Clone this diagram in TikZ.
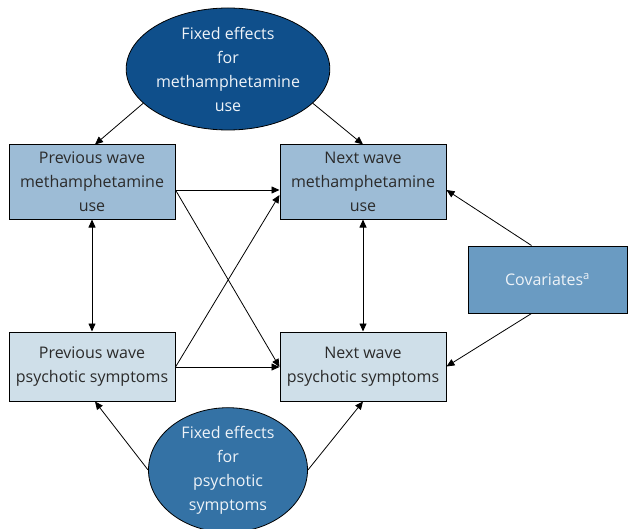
\documentclass[tikz,border=0pt]{standalone}
\usepackage{fontspec}
\setmainfont{Open Sans}
\usetikzlibrary{shapes.geometric,arrows.meta,calc}
\definecolor{ellTop}{HTML}{0F4F8B}
\definecolor{ellBot}{HTML}{3472A5}
\definecolor{methFill}{HTML}{9DBCD6}
\definecolor{psyFill}{HTML}{CFDFE9}
\definecolor{covFill}{HTML}{6A9BC2}
\definecolor{txtDark}{HTML}{2B2B2B}
\definecolor{txtLight}{HTML}{EEF3F8}
\begin{document}
\begin{tikzpicture}[x=1pt,y=-1pt,
  every node/.style={font=\fontsize{16}{24}\selectfont, align=center, inner sep=0pt},
  fx/.style={ellipse, draw=black, line width=0.8pt, minimum width=159, minimum height=122, text=txtLight},
  wavebox/.style={rectangle, draw=black, line width=1pt, minimum width=166, minimum height=74, text=txtDark},
  arr/.style={-{Triangle[length=8pt,width=7pt]}, line width=0.8pt, black},
  darr/.style={{Triangle[length=8pt,width=7pt]}-{Triangle[length=8pt,width=7pt]}, line width=0.8pt, black}
]
\useasboundingbox (0,0) rectangle (628,529);

\node[fx, fill=ellTop] (fetop) at (228,69) {Fixed effects\\for\\methamphetamine\\use};
\node[fx, fill=ellBot] (febot) at (228,470) {Fixed effects\\for\\psychotic\\symptoms};

\node[wavebox, fill=methFill] (pm) at (92,182) {Previous wave\\methamphetamine\\use};
\node[wavebox, fill=methFill] (nm) at (363,182) {Next wave\\methamphetamine\\use};
\node[wavebox, fill=psyFill, minimum height=69] (pp) at (92,366.5) {Previous wave\\psychotic symptoms};
\node[wavebox, fill=psyFill, minimum height=69] (np) at (363,366.5) {Next wave\\psychotic symptoms};
\node[rectangle, draw=black, line width=1pt, fill=covFill, text=txtLight, minimum width=159, minimum height=67] (cov) at (547.5,279.5) {Covariates\textsuperscript{a}};

% fixed effects arrows
\draw[arr] (fetop.202) -- ($(pm.north)+(3,0)$);
\draw[arr] (fetop.338) -- (nm.north);
\draw[arr] (febot.west) -- ($(pp.south)+(3,0)$);
\draw[arr] (febot.east) -- (np.south);

% cross-lagged arrows
\draw[arr] ($(pm.east)+(0,8)$) -- ($(nm.west)+(0,8)$);
\draw[arr] ($(pm.east)+(0,8)$) -- ($(np.west)+(0,0.5)$);
\draw[arr] ($(pp.east)+(0,0.5)$) -- ($(nm.west)+(0,13)$);
\draw[arr] ($(pp.east)+(0,0.5)$) -- ($(np.west)+(0,0.5)$);

% correlations
\draw[darr] (pm.south) -- (pp.north);
\draw[darr] (nm.south) -- (np.north);

% covariates
\draw[arr] ($(cov.north west)+(64,0)$) -- ($(nm.east)+(0,8)$);
\draw[arr] ($(cov.south west)+(64,0)$) -- ($(np.east)+(0,0)$);
\end{tikzpicture}
\end{document}
